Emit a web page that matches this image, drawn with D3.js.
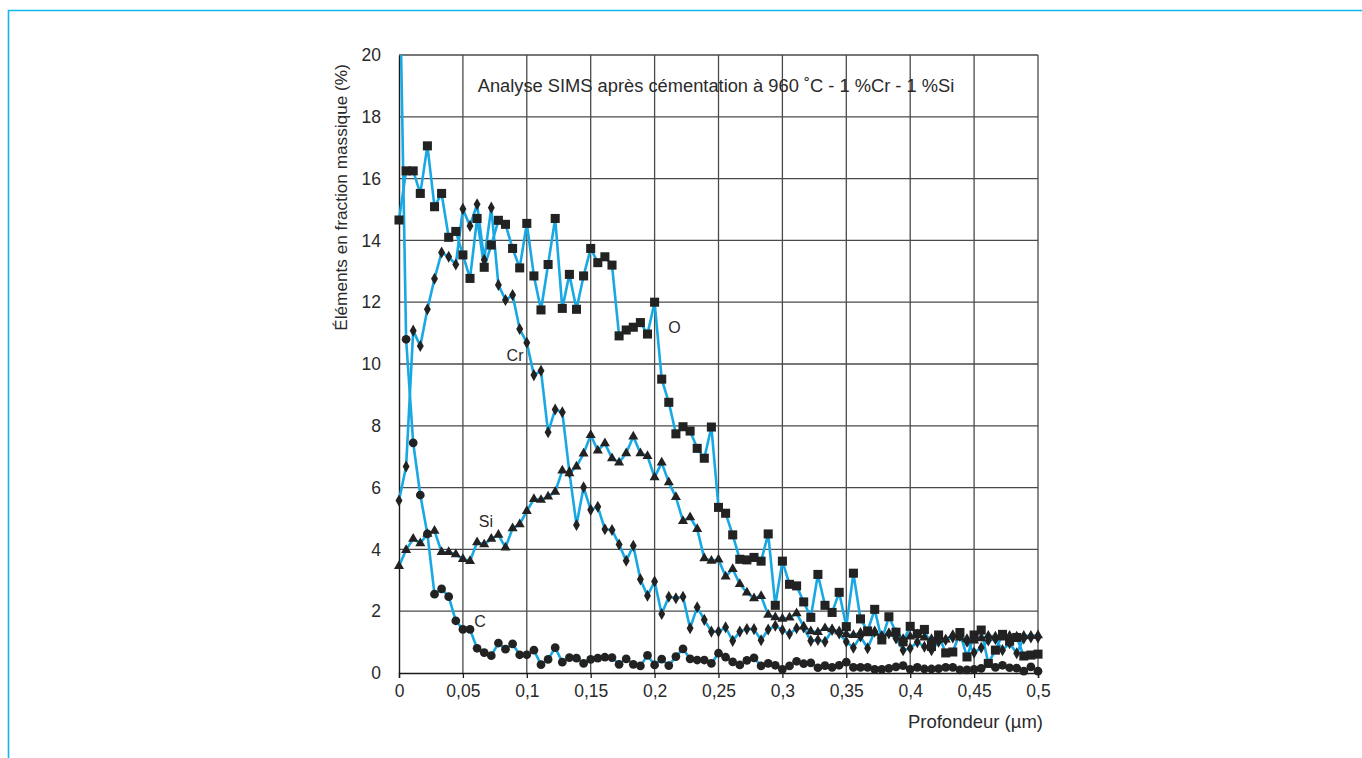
<!DOCTYPE html>
<html>
<head>
<meta charset="utf-8">
<script src="https://cdn.jsdelivr.net/npm/d3@7"></script>
<style>
  html, body { margin: 0; padding: 0; background: #fff; }
  svg { display: block; }
  text { font-family: "Liberation Sans", Arial, Helvetica, sans-serif; fill: #2a2a2a; }
</style>
</head>
<body>
<svg id="chart" width="1362" height="758"></svg>
<script>
// SIMS depth profile after carburizing at 960 °C (1 %Cr - 1 %Si)
// Depth grid: 91 measurement points from 0 to 0.5 µm.
const depth = d3.range(0, 91).map(i => +(i * 0.5 / 90).toFixed(5));

const oxygen = [14.66, 16.25, 16.25, 15.52, 17.06, 15.09, 15.52, 14.10, 14.29, 13.53,
  12.77, 14.71, 13.13, 13.85, 14.65, 14.52, 13.74, 13.11, 14.55, 12.85,
  11.75, 13.22, 14.71, 11.80, 12.90, 11.77, 12.85, 13.74, 13.28, 13.47,
  13.20, 10.91, 11.10, 11.19, 11.34, 10.97, 12.00, 9.51, 8.76, 7.74,
  7.97, 7.83, 7.27, 6.95, 7.96, 5.36, 5.17, 4.47, 3.68, 3.66,
  3.74, 3.62, 4.50, 2.19, 3.62, 2.87, 2.82, 2.30, 1.80, 3.19,
  2.19, 1.96, 2.61, 1.50, 3.23, 1.75, 1.36, 2.06, 1.07, 1.82,
  1.32, 1.01, 1.51, 1.27, 1.41, 0.86, 1.23, 0.65, 0.68, 1.31,
  0.52, 1.23, 1.39, 0.31, 0.74, 1.25, 1.03, 1.15, 0.55, 0.58, 0.61];

const chromium = [5.58, 6.68, 11.08, 10.58, 11.77, 12.76, 13.61, 13.47, 13.22, 15.02,
  14.47, 15.17, 13.37, 15.06, 12.56, 12.07, 12.23, 11.13, 10.69, 9.64,
  9.78, 7.79, 8.53, 8.44, 6.50, 4.79, 6.01, 5.28, 5.38, 4.65,
  4.63, 4.16, 3.63, 4.12, 3.03, 2.50, 2.96, 1.91, 2.47, 2.42,
  2.47, 1.45, 2.13, 1.72, 1.34, 1.34, 1.48, 1.04, 1.34, 1.42,
  1.42, 1.06, 1.41, 1.53, 1.39, 1.26, 1.45, 1.47, 1.04, 1.07,
  1.01, 1.39, 1.28, 1.01, 0.82, 1.18, 0.80, 1.34, 1.18, 1.28,
  1.12, 0.74, 0.80, 1.00, 0.85, 0.74, 1.01, 1.07, 1.15, 1.20,
  1.01, 0.66, 0.82, 1.05, 1.10, 0.74, 0.96, 0.64, 1.12, 1.15, 1.15];

const silicon = [3.46, 3.98, 4.34, 4.20, 4.50, 4.60, 3.91, 3.91, 3.84, 3.69,
  3.62, 4.23, 4.16, 4.34, 4.47, 4.06, 4.68, 4.81, 5.24, 5.63,
  5.60, 5.71, 5.86, 6.55, 6.46, 6.68, 7.10, 7.70, 7.20, 7.43,
  6.95, 6.81, 7.11, 7.65, 7.11, 7.02, 6.33, 6.81, 6.17, 5.69,
  4.92, 5.04, 4.66, 3.71, 3.63, 3.67, 3.12, 3.36, 2.88, 2.60,
  2.42, 2.49, 1.88, 1.80, 1.75, 1.79, 1.93, 1.50, 1.35, 1.32,
  1.45, 1.41, 1.35, 1.25, 1.23, 1.30, 1.28, 1.30, 1.20, 1.28,
  1.30, 1.10, 1.18, 1.25, 1.15, 1.10, 1.15, 1.08, 1.23, 1.15,
  1.10, 1.05, 1.12, 1.20, 1.18, 1.15, 1.20, 1.18, 1.20, 1.20, 1.22];

const carbon = [24.0, 10.80, 7.45, 5.76, 4.50, 2.55, 2.72, 2.47, 1.69, 1.41,
  1.41, 0.80, 0.66, 0.56, 0.97, 0.77, 0.94, 0.59, 0.59, 0.74,
  0.27, 0.44, 0.82, 0.35, 0.50, 0.48, 0.31, 0.44, 0.48, 0.51,
  0.50, 0.28, 0.46, 0.28, 0.23, 0.57, 0.26, 0.45, 0.24, 0.53,
  0.78, 0.46, 0.42, 0.42, 0.31, 0.64, 0.51, 0.36, 0.26, 0.41,
  0.49, 0.23, 0.31, 0.25, 0.12, 0.23, 0.38, 0.30, 0.33, 0.17,
  0.24, 0.18, 0.25, 0.35, 0.18, 0.18, 0.18, 0.12, 0.12, 0.15,
  0.20, 0.24, 0.12, 0.18, 0.13, 0.13, 0.14, 0.18, 0.18, 0.10,
  0.10, 0.12, 0.15, 0.31, 0.18, 0.25, 0.17, 0.16, 0.06, 0.20, 0.06];

const xTicks = [0, 0.05, 0.1, 0.15, 0.2, 0.25, 0.3, 0.35, 0.4, 0.45, 0.5];
const xTickLabels = ["0", "0,05", "0,1", "0,15", "0,2", "0,25", "0,3", "0,35", "0,4", "0,45", "0,5"];
const yTicks = [0, 2, 4, 6, 8, 10, 12, 14, 16, 18, 20];

const seriesNames = ["O", "Cr", "Si", "C"];
const seriesMarkers = ["square", "diamond", "triangle", "circle"];
const seriesLabelAt = [
  { name: "O", x: 0.2155, y: 11.0 },
  { name: "Cr", x: 0.0908, y: 10.1 },
  { name: "Si", x: 0.068, y: 4.72 },
  { name: "C", x: 0.0634, y: 1.49 }
];

const svg = d3.select("#chart");

// page frame
svg.append("path")
  .attr("d", "M8.5,758 V10.5 H1362")
  .attr("fill", "none")
  .attr("stroke", "#14b4ec")
  .attr("stroke-width", 1.6);

const plotLeft = 399, plotRight = 1038, plotTop = 55, plotBottom = 673;
const x = d3.scaleLinear().domain([0, 0.5]).range([plotLeft, plotRight]);
const y = d3.scaleLinear().domain([0, 20]).range([plotBottom, plotTop]);

// grid
const grid = svg.append("g");
grid.selectAll("line.v").data(xTicks.slice(1)).join("line")
  .attr("x1", d => x(d)).attr("x2", d => x(d))
  .attr("y1", plotTop).attr("y2", plotBottom)
  .attr("stroke", "#4a4a4a").attr("stroke-width", 1.3);
grid.selectAll("line.h").data(yTicks.slice(1)).join("line")
  .attr("x1", plotLeft).attr("x2", plotRight)
  .attr("y1", d => y(d)).attr("y2", d => y(d))
  .attr("stroke", "#4a4a4a").attr("stroke-width", 1.3);

// axes
const xAxis = d3.axisBottom(x).tickValues(xTicks)
  .tickFormat((d, i) => xTickLabels[i]).tickSize(5).tickPadding(7);
const yAxis = d3.axisLeft(y).tickValues(yTicks).tickSize(0).tickPadding(18);

const gx = svg.append("g").attr("transform", `translate(0,${plotBottom})`).call(xAxis);
const gy = svg.append("g").attr("transform", `translate(${plotLeft},0)`).call(yAxis);
[gx, gy].forEach(g => {
  g.select(".domain").attr("stroke", "#1a1a1a").attr("stroke-width", 1.4);
  g.selectAll(".tick line").attr("stroke", "#1a1a1a").attr("stroke-width", 1.3);
  g.selectAll(".tick text")
    .style("font-family", "'Liberation Sans', Arial, sans-serif")
    .style("font-size", "17.5px").attr("fill", "#2a2a2a");
});

// axis titles
svg.append("text")
  .attr("x", 1043).attr("y", 728)
  .attr("text-anchor", "end")
  .style("font-size", "18.5px")
  .text("Profondeur (µm)");

svg.append("text")
  .attr("transform", "translate(347,197.5) rotate(-90)")
  .attr("text-anchor", "middle")
  .style("font-size", "17.2px")
  .text("Éléments en fraction massique (%)");

svg.append("text")
  .attr("x", 716).attr("y", 92)
  .attr("text-anchor", "middle")
  .style("font-size", "18.3px")
  .text("Analyse SIMS après cémentation à 960 ˚C - 1 %Cr - 1 %Si");

// data
const seriesValues = [oxygen, chromium, silicon, carbon];

svg.append("clipPath").attr("id", "plotClip")
  .append("rect").attr("x", plotLeft - 6).attr("y", plotTop)
  .attr("width", plotRight - plotLeft + 12).attr("height", plotBottom - plotTop + 8);

const plot = svg.append("g").attr("clip-path", "url(#plotClip)");

const line = d3.line().x((d, i) => x(depth[i])).y(d => y(d));

// lines first, then all markers on top
seriesValues.forEach(vals => {
  plot.append("path")
    .attr("d", line(vals))
    .attr("fill", "none")
    .attr("stroke", "#18a8e4")
    .attr("stroke-width", 2.6)
    .attr("stroke-linejoin", "round");
});

const symbolFor = {
  square: d3.symbol().type(d3.symbolSquare).size(82),
  diamond: d3.symbol().type(d3.symbolDiamond).size(42),
  triangle: d3.symbol().type(d3.symbolTriangle).size(44),
  circle: d3.symbol().type(d3.symbolCircle).size(60)
};

seriesValues.forEach((vals, s) => {
  const gen = symbolFor[seriesMarkers[s]];
  plot.append("g").selectAll("path")
    .data(vals.map((v, i) => ({ v, i })).filter(d => d.v <= 20))
    .join("path")
    .attr("transform", d => `translate(${x(depth[d.i])},${y(d.v)})`)
    .attr("d", gen())
    .attr("fill", "#222");
});

// series labels
svg.append("g").selectAll("text").data(seriesLabelAt).join("text")
  .attr("x", d => x(d.x)).attr("y", d => y(d.y))
  .attr("text-anchor", "middle")
  .style("font-size", "16px")
  .text(d => d.name);
</script>
</body>
</html>
